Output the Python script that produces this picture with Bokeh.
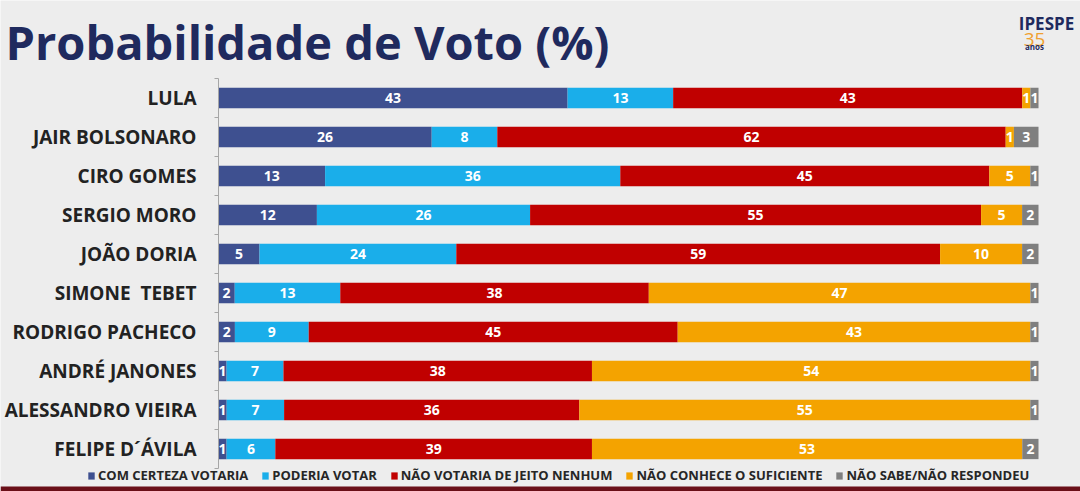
import numpy as np
from bokeh.plotting import figure
from bokeh.models import (ColumnDataSource, FixedTicker, Legend, LegendItem, Label,
                          Range1d, BoxAnnotation)
from bokeh.core.properties import value
from bokeh.embed import file_html
from bokeh.resources import INLINE

# ---------------- data ----------------
candidates = ["LULA", "JAIR BOLSONARO", "CIRO GOMES", "SERGIO MORO", "JOÃO DORIA",
              "SIMONE  TEBET", "RODRIGO PACHECO", "ANDRÉ JANONES", "ALESSANDRO VIEIRA",
              "FELIPE D´ÁVILA"]
com_certeza = [43, 26, 13, 12, 5, 2, 2, 1, 1, 1]
poderia = [13, 8, 36, 26, 24, 13, 9, 7, 7, 6]
nao_votaria = [43, 62, 45, 55, 59, 38, 45, 38, 36, 39]
nao_conhece = [1, 1, 5, 5, 10, 47, 43, 54, 55, 53]
nao_sabe = [1, 3, 1, 2, 2, 1, 1, 1, 1, 2]

series_names = ["COM CERTEZA VOTARIA", "PODERIA VOTAR", "NÃO VOTARIA DE JEITO NENHUM",
                "NÃO CONHECE O SUFICIENTE", "NÃO SABE/NÃO RESPONDEU"]
colors = ["#3E5090", "#1AAEEA", "#C00000", "#F4A300", "#7F7F7F"]

# ---------------- build ----------------
vals = np.array([com_certeza, poderia, nao_votaria, nao_conhece, nao_sabe], dtype=float)
totals = vals.sum(axis=0)
norm = vals / totals * 100.0
keys = ["s0", "s1", "s2", "s3", "s4"]
n = len(candidates)
ys = list(range(n))
data = {"y": ys}
for k, row in zip(keys, norm):
    data[k] = list(row)
src = ColumnDataSource(data)

BG = "#EDEDED"
W, H = 1080, 491
PX0, PX100 = 218, 1038          # pixel position of 0% and 100%
TOP, ROW = 78, 39               # pixel top of first row, row height
ppu = (PX100 - PX0) / 100.0
x_start = -PX0 / ppu
x_end = (W - PX0) / ppu
y_top = -0.5 - TOP / ROW
y_bottom = y_top + H / ROW

p = figure(width=W, height=H, output_backend="svg", toolbar_location=None,
           x_range=Range1d(x_start, x_end), y_range=Range1d(y_bottom, y_top),
           min_border=0, min_border_left=0, min_border_right=0,
           min_border_top=0, min_border_bottom=0,
           background_fill_color=BG, border_fill_color=BG, outline_line_color=None)

renderers = p.hbar_stack(keys, y="y", height=0.52, color=colors, source=src, line_color=None)

# value labels
cum = np.cumsum(norm, axis=0)
tx, ty, tt = [], [], []
for i in range(vals.shape[0]):
    for j in range(vals.shape[1]):
        start = cum[i, j] - norm[i, j]
        tx.append(start + norm[i, j] / 2)
        ty.append(j)
        tt.append(str(int(vals[i, j])))
p.text(x=tx, y=ty, text=tt, text_color="white", text_font=value("Open Sans"),
       text_font_style="bold", text_font_size="14px", text_align="center",
       text_baseline="middle")

# axes
p.xaxis.visible = False
p.xgrid.visible = False
p.ygrid.visible = False
yax = p.yaxis[0]
yax.fixed_location = 0
yax.bounds = (-0.5, n - 0.5)
yax.ticker = FixedTicker(ticks=ys, minor_ticks=[i - 0.5 for i in range(n + 1)])
yax.major_label_overrides = {i: c.replace("  ", "\u00a0 ") for i, c in enumerate(candidates)}
yax.major_tick_out = 0
yax.major_tick_in = 0
yax.minor_tick_out = 4
yax.minor_tick_in = 0
yax.minor_tick_line_color = "#A6A6A6"
yax.axis_line_color = "#A6A6A6"
yax.major_label_standoff = 18
yax.major_label_text_font = "Open Sans"
yax.major_label_text_font_style = "bold"
yax.major_label_text_font_size = "19px"
yax.major_label_text_color = "#222222"

# legend
items = [LegendItem(label=s, renderers=[r]) for s, r in zip(series_names, renderers)]
legend = Legend(items=items, orientation="horizontal", location=(87, H - 484),
                glyph_width=8, glyph_height=9, label_height=14, label_standoff=3,
                spacing=13, padding=0, margin=0, background_fill_alpha=0,
                border_line_color=None, label_text_font="Open Sans",
                label_text_font_style="bold", label_text_font_size="13px",
                label_text_color="#262626")
p.add_layout(legend, "center")

# title
p.add_layout(Label(x=5, y=H - 41, x_units="screen", y_units="screen",
                   text="Probabilidade de Voto (%)", text_font="Open Sans",
                   text_font_style="bold", text_font_size="47px", text_color="#1F2A5E",
                   text_baseline="alphabetic"))
# logo
p.add_layout(Label(x=1046, y=H - 23, x_units="screen", y_units="screen",
                   text="IPESPE", text_font="Open Sans", text_font_style="bold",
                   text_font_size="17px", text_color="#1F2A5E", text_align="center",
                   text_baseline="alphabetic"))
p.add_layout(Label(x=1034, y=H - 39, x_units="screen", y_units="screen",
                   text="35", text_font="Open Sans", text_font_size="19px",
                   text_color="#F0A030", text_align="center", text_baseline="alphabetic"))
p.add_layout(Label(x=1034, y=H - 46, x_units="screen", y_units="screen",
                   text="anos", text_font="Open Sans", text_font_style="bold",
                   text_font_size="8px", text_color="#1F2A5E", text_align="center",
                   text_baseline="alphabetic"))

# bottom strip
p.add_layout(BoxAnnotation(left=0, right=W, top=5, bottom=0,
                           left_units="screen", right_units="screen", top_units="screen",
                           bottom_units="screen", fill_color="#6A0F18", fill_alpha=1,
                           line_color=None))

open("out.html", "w").write(file_html(p, INLINE))
